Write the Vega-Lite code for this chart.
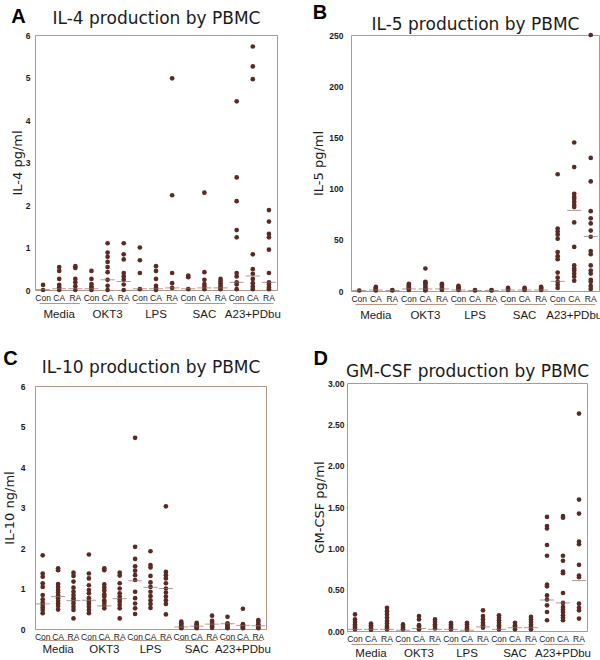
{
  "$schema": "https://vega.github.io/schema/vega-lite/v6.json",
  "padding": {"left": 2, "top": 2, "right": 0, "bottom": 0},
  "background": "white",
  "config": {
    "font": "Liberation Sans",
    "view": {"stroke": "#b59686", "strokeWidth": 1},
    "axis": {"grid": false, "ticks": false, "domain": false, "labelColor": "#1a1a1a", "titleColor": "#1a1a1a", "titleFont": "DejaVu Sans", "titleFontWeight": "normal"},
    "title": {"font": "Liberation Sans", "fontSize": 20, "fontWeight": "bold", "color": "#000", "anchor": "start", "frame": "bounds", "baseline": "alphabetic"}
  },
  "datasets": {
    "stims": [{"s": "Media"}, {"s": "OKT3"}, {"s": "LPS"}, {"s": "SAC"}, {"s": "A23+PDbu"}],
    "A": [
      {"c": "Media|Con", "v": 0.12}, {"c": "Media|Con", "v": 0},
      {"c": "Media|CA", "v": 0.54}, {"c": "Media|CA", "v": 0.45}, {"c": "Media|CA", "v": 0.26}, {"c": "Media|CA", "v": 0.12}, {"c": "Media|CA", "v": 0.06}, {"c": "Media|CA", "v": 0},
      {"c": "Media|RA", "v": 0.56}, {"c": "Media|RA", "v": 0.52}, {"c": "Media|RA", "v": 0.26}, {"c": "Media|RA", "v": 0.18}, {"c": "Media|RA", "v": 0.09}, {"c": "Media|RA", "v": 0},
      {"c": "OKT3|Con", "v": 0.45}, {"c": "OKT3|Con", "v": 0.26}, {"c": "OKT3|Con", "v": 0.14}, {"c": "OKT3|Con", "v": 0.08}, {"c": "OKT3|Con", "v": 0.05}, {"c": "OKT3|Con", "v": 0},
      {"c": "OKT3|CA", "v": 1.1}, {"c": "OKT3|CA", "v": 0.88}, {"c": "OKT3|CA", "v": 0.78}, {"c": "OKT3|CA", "v": 0.66}, {"c": "OKT3|CA", "v": 0.54}, {"c": "OKT3|CA", "v": 0.42}, {"c": "OKT3|CA", "v": 0.24}, {"c": "OKT3|CA", "v": 0.1}, {"c": "OKT3|CA", "v": 0},
      {"c": "OKT3|RA", "v": 1.1}, {"c": "OKT3|RA", "v": 0.84}, {"c": "OKT3|RA", "v": 0.72}, {"c": "OKT3|RA", "v": 0.4}, {"c": "OKT3|RA", "v": 0.32}, {"c": "OKT3|RA", "v": 0.24}, {"c": "OKT3|RA", "v": 0.13}, {"c": "OKT3|RA", "v": 0},
      {"c": "LPS|Con", "v": 1.0}, {"c": "LPS|Con", "v": 0.7}, {"c": "LPS|Con", "v": 0.4}, {"c": "LPS|Con", "v": 0.02},
      {"c": "LPS|CA", "v": 0.56}, {"c": "LPS|CA", "v": 0.45}, {"c": "LPS|CA", "v": 0.26}, {"c": "LPS|CA", "v": 0.1}, {"c": "LPS|CA", "v": 0.05}, {"c": "LPS|CA", "v": 0},
      {"c": "LPS|RA", "v": 4.98}, {"c": "LPS|RA", "v": 2.23}, {"c": "LPS|RA", "v": 0.4}, {"c": "LPS|RA", "v": 0.16}, {"c": "LPS|RA", "v": 0.05},
      {"c": "SAC|Con", "v": 0.34}, {"c": "SAC|Con", "v": 0.3}, {"c": "SAC|Con", "v": 0.02},
      {"c": "SAC|CA", "v": 2.29}, {"c": "SAC|CA", "v": 0.42}, {"c": "SAC|CA", "v": 0.24}, {"c": "SAC|CA", "v": 0.14}, {"c": "SAC|CA", "v": 0.08}, {"c": "SAC|CA", "v": 0.02},
      {"c": "SAC|RA", "v": 0.26}, {"c": "SAC|RA", "v": 0.21}, {"c": "SAC|RA", "v": 0.16}, {"c": "SAC|RA", "v": 0.1}, {"c": "SAC|RA", "v": 0.06}, {"c": "SAC|RA", "v": 0.02},
      {"c": "A23+PDbu|Con", "v": 4.44}, {"c": "A23+PDbu|Con", "v": 2.65}, {"c": "A23+PDbu|Con", "v": 2.09}, {"c": "A23+PDbu|Con", "v": 1.41}, {"c": "A23+PDbu|Con", "v": 1.24}, {"c": "A23+PDbu|Con", "v": 0.4}, {"c": "A23+PDbu|Con", "v": 0.32}, {"c": "A23+PDbu|Con", "v": 0.18}, {"c": "A23+PDbu|Con", "v": 0.13}, {"c": "A23+PDbu|Con", "v": 0.02},
      {"c": "A23+PDbu|CA", "v": 5.73}, {"c": "A23+PDbu|CA", "v": 5.26}, {"c": "A23+PDbu|CA", "v": 4.96}, {"c": "A23+PDbu|CA", "v": 0.84}, {"c": "A23+PDbu|CA", "v": 0.49}, {"c": "A23+PDbu|CA", "v": 0.38}, {"c": "A23+PDbu|CA", "v": 0.26}, {"c": "A23+PDbu|CA", "v": 0.16}, {"c": "A23+PDbu|CA", "v": 0.08}, {"c": "A23+PDbu|CA", "v": 0.02},
      {"c": "A23+PDbu|RA", "v": 1.88}, {"c": "A23+PDbu|RA", "v": 1.61}, {"c": "A23+PDbu|RA", "v": 1.32}, {"c": "A23+PDbu|RA", "v": 1.24}, {"c": "A23+PDbu|RA", "v": 0.95}, {"c": "A23+PDbu|RA", "v": 0.4}, {"c": "A23+PDbu|RA", "v": 0.18}, {"c": "A23+PDbu|RA", "v": 0.13}, {"c": "A23+PDbu|RA", "v": 0.06}, {"c": "A23+PDbu|RA", "v": 0.02}
    ],
    "Am": [
      {"c": "Media|Con", "v": 0.01}, {"c": "Media|CA", "v": 0.03}, {"c": "Media|RA", "v": 0.03},
      {"c": "OKT3|Con", "v": 0.03}, {"c": "OKT3|CA", "v": 0.24}, {"c": "OKT3|RA", "v": 0.2},
      {"c": "LPS|Con", "v": 0.03}, {"c": "LPS|CA", "v": 0.03}, {"c": "LPS|RA", "v": 0.05},
      {"c": "SAC|Con", "v": 0.03}, {"c": "SAC|CA", "v": 0.05}, {"c": "SAC|RA", "v": 0.05},
      {"c": "A23+PDbu|Con", "v": 0.18}, {"c": "A23+PDbu|CA", "v": 0.33}, {"c": "A23+PDbu|RA", "v": 0.18}
    ],
    "B": [
      {"c": "Media|Con", "v": 0.5},
      {"c": "Media|CA", "v": 4}, {"c": "Media|CA", "v": 3}, {"c": "Media|CA", "v": 2}, {"c": "Media|CA", "v": 1}, {"c": "Media|CA", "v": 0.5},
      {"c": "Media|RA", "v": 1}, {"c": "Media|RA", "v": 0.5},
      {"c": "OKT3|Con", "v": 7}, {"c": "OKT3|Con", "v": 6}, {"c": "OKT3|Con", "v": 5}, {"c": "OKT3|Con", "v": 4}, {"c": "OKT3|Con", "v": 3}, {"c": "OKT3|Con", "v": 2}, {"c": "OKT3|Con", "v": 1},
      {"c": "OKT3|CA", "v": 22}, {"c": "OKT3|CA", "v": 9}, {"c": "OKT3|CA", "v": 8}, {"c": "OKT3|CA", "v": 7}, {"c": "OKT3|CA", "v": 5}, {"c": "OKT3|CA", "v": 3}, {"c": "OKT3|CA", "v": 2}, {"c": "OKT3|CA", "v": 1}, {"c": "OKT3|CA", "v": 0.5},
      {"c": "OKT3|RA", "v": 7}, {"c": "OKT3|RA", "v": 6}, {"c": "OKT3|RA", "v": 5}, {"c": "OKT3|RA", "v": 3}, {"c": "OKT3|RA", "v": 2}, {"c": "OKT3|RA", "v": 1},
      {"c": "LPS|Con", "v": 5}, {"c": "LPS|Con", "v": 4}, {"c": "LPS|Con", "v": 3}, {"c": "LPS|Con", "v": 2}, {"c": "LPS|Con", "v": 1},
      {"c": "LPS|CA", "v": 1}, {"c": "LPS|CA", "v": 0.5},
      {"c": "LPS|RA", "v": 1}, {"c": "LPS|RA", "v": 0.5},
      {"c": "SAC|Con", "v": 3}, {"c": "SAC|Con", "v": 2}, {"c": "SAC|Con", "v": 1},
      {"c": "SAC|CA", "v": 3}, {"c": "SAC|CA", "v": 2}, {"c": "SAC|CA", "v": 1},
      {"c": "SAC|RA", "v": 4}, {"c": "SAC|RA", "v": 3}, {"c": "SAC|RA", "v": 2}, {"c": "SAC|RA", "v": 1},
      {"c": "A23+PDbu|Con", "v": 114}, {"c": "A23+PDbu|Con", "v": 61}, {"c": "A23+PDbu|Con", "v": 58}, {"c": "A23+PDbu|Con", "v": 55}, {"c": "A23+PDbu|Con", "v": 51}, {"c": "A23+PDbu|Con", "v": 38}, {"c": "A23+PDbu|Con", "v": 34}, {"c": "A23+PDbu|Con", "v": 31}, {"c": "A23+PDbu|Con", "v": 18}, {"c": "A23+PDbu|Con", "v": 13}, {"c": "A23+PDbu|Con", "v": 9}, {"c": "A23+PDbu|Con", "v": 6}, {"c": "A23+PDbu|Con", "v": 3},
      {"c": "A23+PDbu|CA", "v": 145}, {"c": "A23+PDbu|CA", "v": 121}, {"c": "A23+PDbu|CA", "v": 95}, {"c": "A23+PDbu|CA", "v": 92}, {"c": "A23+PDbu|CA", "v": 90}, {"c": "A23+PDbu|CA", "v": 87}, {"c": "A23+PDbu|CA", "v": 84}, {"c": "A23+PDbu|CA", "v": 82}, {"c": "A23+PDbu|CA", "v": 67}, {"c": "A23+PDbu|CA", "v": 43}, {"c": "A23+PDbu|CA", "v": 25}, {"c": "A23+PDbu|CA", "v": 22}, {"c": "A23+PDbu|CA", "v": 20}, {"c": "A23+PDbu|CA", "v": 17}, {"c": "A23+PDbu|CA", "v": 14}, {"c": "A23+PDbu|CA", "v": 10},
      {"c": "A23+PDbu|RA", "v": 250}, {"c": "A23+PDbu|RA", "v": 130}, {"c": "A23+PDbu|RA", "v": 107}, {"c": "A23+PDbu|RA", "v": 78}, {"c": "A23+PDbu|RA", "v": 71}, {"c": "A23+PDbu|RA", "v": 66}, {"c": "A23+PDbu|RA", "v": 59}, {"c": "A23+PDbu|RA", "v": 53}, {"c": "A23+PDbu|RA", "v": 39}, {"c": "A23+PDbu|RA", "v": 36}, {"c": "A23+PDbu|RA", "v": 25}, {"c": "A23+PDbu|RA", "v": 20}, {"c": "A23+PDbu|RA", "v": 17}, {"c": "A23+PDbu|RA", "v": 11}, {"c": "A23+PDbu|RA", "v": 9}, {"c": "A23+PDbu|RA", "v": 5}, {"c": "A23+PDbu|RA", "v": 2}
    ],
    "Bm": [
      {"c": "Media|Con", "v": 0.5}, {"c": "Media|CA", "v": 1}, {"c": "Media|RA", "v": 0.5},
      {"c": "OKT3|Con", "v": 2}, {"c": "OKT3|CA", "v": 2}, {"c": "OKT3|RA", "v": 2},
      {"c": "LPS|Con", "v": 1}, {"c": "LPS|CA", "v": 0.5}, {"c": "LPS|RA", "v": 0.5},
      {"c": "SAC|Con", "v": 1}, {"c": "SAC|CA", "v": 1}, {"c": "SAC|RA", "v": 1},
      {"c": "A23+PDbu|Con", "v": 9.4}, {"c": "A23+PDbu|CA", "v": 78.7}, {"c": "A23+PDbu|RA", "v": 53.3}
    ],
    "C": [
      {"c": "Media|Con", "v": 1.82}, {"c": "Media|Con", "v": 1.37}, {"c": "Media|Con", "v": 1.29}, {"c": "Media|Con", "v": 1.13}, {"c": "Media|Con", "v": 1.04}, {"c": "Media|Con", "v": 0.84}, {"c": "Media|Con", "v": 0.73}, {"c": "Media|Con", "v": 0.65}, {"c": "Media|Con", "v": 0.59}, {"c": "Media|Con", "v": 0.53}, {"c": "Media|Con", "v": 0.47}, {"c": "Media|Con", "v": 0.39},
      {"c": "Media|CA", "v": 1.5}, {"c": "Media|CA", "v": 1.45}, {"c": "Media|CA", "v": 1.11}, {"c": "Media|CA", "v": 1.04}, {"c": "Media|CA", "v": 0.96}, {"c": "Media|CA", "v": 0.9}, {"c": "Media|CA", "v": 0.83}, {"c": "Media|CA", "v": 0.76}, {"c": "Media|CA", "v": 0.69}, {"c": "Media|CA", "v": 0.63}, {"c": "Media|CA", "v": 0.57}, {"c": "Media|CA", "v": 0.48},
      {"c": "Media|RA", "v": 1.39}, {"c": "Media|RA", "v": 1.31}, {"c": "Media|RA", "v": 1.17}, {"c": "Media|RA", "v": 1.02}, {"c": "Media|RA", "v": 0.92}, {"c": "Media|RA", "v": 0.84}, {"c": "Media|RA", "v": 0.76}, {"c": "Media|RA", "v": 0.7}, {"c": "Media|RA", "v": 0.63}, {"c": "Media|RA", "v": 0.55}, {"c": "Media|RA", "v": 0.47}, {"c": "Media|RA", "v": 0.26},
      {"c": "OKT3|Con", "v": 1.84}, {"c": "OKT3|Con", "v": 1.37}, {"c": "OKT3|Con", "v": 1.25}, {"c": "OKT3|Con", "v": 1.08}, {"c": "OKT3|Con", "v": 0.96}, {"c": "OKT3|Con", "v": 0.88}, {"c": "OKT3|Con", "v": 0.76}, {"c": "OKT3|Con", "v": 0.67}, {"c": "OKT3|Con", "v": 0.62}, {"c": "OKT3|Con", "v": 0.55}, {"c": "OKT3|Con", "v": 0.47}, {"c": "OKT3|Con", "v": 0.39},
      {"c": "OKT3|CA", "v": 1.5}, {"c": "OKT3|CA", "v": 1.45}, {"c": "OKT3|CA", "v": 1.1}, {"c": "OKT3|CA", "v": 1.02}, {"c": "OKT3|CA", "v": 0.95}, {"c": "OKT3|CA", "v": 0.86}, {"c": "OKT3|CA", "v": 0.8}, {"c": "OKT3|CA", "v": 0.71}, {"c": "OKT3|CA", "v": 0.65}, {"c": "OKT3|CA", "v": 0.58}, {"c": "OKT3|CA", "v": 0.51},
      {"c": "OKT3|RA", "v": 1.39}, {"c": "OKT3|RA", "v": 1.32}, {"c": "OKT3|RA", "v": 1.13}, {"c": "OKT3|RA", "v": 1.0}, {"c": "OKT3|RA", "v": 0.88}, {"c": "OKT3|RA", "v": 0.8}, {"c": "OKT3|RA", "v": 0.73}, {"c": "OKT3|RA", "v": 0.67}, {"c": "OKT3|RA", "v": 0.59}, {"c": "OKT3|RA", "v": 0.51}, {"c": "OKT3|RA", "v": 0.26},
      {"c": "LPS|Con", "v": 4.72}, {"c": "LPS|Con", "v": 2.03}, {"c": "LPS|Con", "v": 1.73}, {"c": "LPS|Con", "v": 1.55}, {"c": "LPS|Con", "v": 1.44}, {"c": "LPS|Con", "v": 1.33}, {"c": "LPS|Con", "v": 1.21}, {"c": "LPS|Con", "v": 0.92}, {"c": "LPS|Con", "v": 0.76}, {"c": "LPS|Con", "v": 0.63}, {"c": "LPS|Con", "v": 0.51}, {"c": "LPS|Con", "v": 0.37},
      {"c": "LPS|CA", "v": 1.92}, {"c": "LPS|CA", "v": 1.58}, {"c": "LPS|CA", "v": 1.52}, {"c": "LPS|CA", "v": 1.31}, {"c": "LPS|CA", "v": 1.15}, {"c": "LPS|CA", "v": 1.04}, {"c": "LPS|CA", "v": 0.92}, {"c": "LPS|CA", "v": 0.81}, {"c": "LPS|CA", "v": 0.71}, {"c": "LPS|CA", "v": 0.62}, {"c": "LPS|CA", "v": 0.52},
      {"c": "LPS|RA", "v": 3.03}, {"c": "LPS|RA", "v": 1.41}, {"c": "LPS|RA", "v": 1.33}, {"c": "LPS|RA", "v": 1.25}, {"c": "LPS|RA", "v": 1.13}, {"c": "LPS|RA", "v": 1.0}, {"c": "LPS|RA", "v": 0.9}, {"c": "LPS|RA", "v": 0.8}, {"c": "LPS|RA", "v": 0.71}, {"c": "LPS|RA", "v": 0.62}, {"c": "LPS|RA", "v": 0.36},
      {"c": "SAC|Con", "v": 0.18}, {"c": "SAC|Con", "v": 0.14}, {"c": "SAC|Con", "v": 0.1}, {"c": "SAC|Con", "v": 0.07}, {"c": "SAC|Con", "v": 0.04}, {"c": "SAC|Con", "v": 0.02},
      {"c": "SAC|CA", "v": 0.15}, {"c": "SAC|CA", "v": 0.12}, {"c": "SAC|CA", "v": 0.1}, {"c": "SAC|CA", "v": 0.07}, {"c": "SAC|CA", "v": 0.04}, {"c": "SAC|CA", "v": 0.02},
      {"c": "SAC|RA", "v": 0.33}, {"c": "SAC|RA", "v": 0.2}, {"c": "SAC|RA", "v": 0.15}, {"c": "SAC|RA", "v": 0.1}, {"c": "SAC|RA", "v": 0.06}, {"c": "SAC|RA", "v": 0.03},
      {"c": "A23+PDbu|Con", "v": 0.3}, {"c": "A23+PDbu|Con", "v": 0.14}, {"c": "A23+PDbu|Con", "v": 0.12}, {"c": "A23+PDbu|Con", "v": 0.08}, {"c": "A23+PDbu|Con", "v": 0.04}, {"c": "A23+PDbu|Con", "v": 0.02},
      {"c": "A23+PDbu|CA", "v": 0.5}, {"c": "A23+PDbu|CA", "v": 0.12}, {"c": "A23+PDbu|CA", "v": 0.1}, {"c": "A23+PDbu|CA", "v": 0.07}, {"c": "A23+PDbu|CA", "v": 0.04}, {"c": "A23+PDbu|CA", "v": 0.02},
      {"c": "A23+PDbu|RA", "v": 0.22}, {"c": "A23+PDbu|RA", "v": 0.18}, {"c": "A23+PDbu|RA", "v": 0.12}, {"c": "A23+PDbu|RA", "v": 0.08}, {"c": "A23+PDbu|RA", "v": 0.04}, {"c": "A23+PDbu|RA", "v": 0.02}
    ],
    "Cm": [
      {"c": "Media|Con", "v": 0.62}, {"c": "Media|CA", "v": 0.8}, {"c": "Media|RA", "v": 0.7},
      {"c": "OKT3|Con", "v": 0.71}, {"c": "OKT3|CA", "v": 0.57}, {"c": "OKT3|RA", "v": 0.75},
      {"c": "LPS|Con", "v": 1.19}, {"c": "LPS|CA", "v": 1.03}, {"c": "LPS|RA", "v": 1.0},
      {"c": "SAC|Con", "v": 0.05}, {"c": "SAC|CA", "v": 0.07}, {"c": "SAC|RA", "v": 0.12},
      {"c": "A23+PDbu|Con", "v": 0.13}, {"c": "A23+PDbu|CA", "v": 0.09}, {"c": "A23+PDbu|RA", "v": 0.08}
    ],
    "D": [
      {"c": "Media|Con", "v": 0.2}, {"c": "Media|Con", "v": 0.14}, {"c": "Media|Con", "v": 0.11}, {"c": "Media|Con", "v": 0.08}, {"c": "Media|Con", "v": 0.06}, {"c": "Media|Con", "v": 0.04}, {"c": "Media|Con", "v": 0.02},
      {"c": "Media|CA", "v": 0.09}, {"c": "Media|CA", "v": 0.07}, {"c": "Media|CA", "v": 0.05}, {"c": "Media|CA", "v": 0.03}, {"c": "Media|CA", "v": 0.015},
      {"c": "Media|RA", "v": 0.28}, {"c": "Media|RA", "v": 0.24}, {"c": "Media|RA", "v": 0.2}, {"c": "Media|RA", "v": 0.16}, {"c": "Media|RA", "v": 0.12}, {"c": "Media|RA", "v": 0.09}, {"c": "Media|RA", "v": 0.06}, {"c": "Media|RA", "v": 0.04}, {"c": "Media|RA", "v": 0.02},
      {"c": "OKT3|Con", "v": 0.08}, {"c": "OKT3|Con", "v": 0.06}, {"c": "OKT3|Con", "v": 0.04}, {"c": "OKT3|Con", "v": 0.02},
      {"c": "OKT3|CA", "v": 0.18}, {"c": "OKT3|CA", "v": 0.14}, {"c": "OKT3|CA", "v": 0.07}, {"c": "OKT3|CA", "v": 0.05}, {"c": "OKT3|CA", "v": 0.02},
      {"c": "OKT3|RA", "v": 0.14}, {"c": "OKT3|RA", "v": 0.11}, {"c": "OKT3|RA", "v": 0.08}, {"c": "OKT3|RA", "v": 0.06}, {"c": "OKT3|RA", "v": 0.03},
      {"c": "LPS|Con", "v": 0.1}, {"c": "LPS|Con", "v": 0.08}, {"c": "LPS|Con", "v": 0.06}, {"c": "LPS|Con", "v": 0.04}, {"c": "LPS|Con", "v": 0.02},
      {"c": "LPS|CA", "v": 0.1}, {"c": "LPS|CA", "v": 0.08}, {"c": "LPS|CA", "v": 0.05}, {"c": "LPS|CA", "v": 0.03}, {"c": "LPS|CA", "v": 0.015},
      {"c": "LPS|RA", "v": 0.25}, {"c": "LPS|RA", "v": 0.18}, {"c": "LPS|RA", "v": 0.14}, {"c": "LPS|RA", "v": 0.1}, {"c": "LPS|RA", "v": 0.07}, {"c": "LPS|RA", "v": 0.04},
      {"c": "SAC|Con", "v": 0.19}, {"c": "SAC|Con", "v": 0.16}, {"c": "SAC|Con", "v": 0.13}, {"c": "SAC|Con", "v": 0.1}, {"c": "SAC|Con", "v": 0.07}, {"c": "SAC|Con", "v": 0.05}, {"c": "SAC|Con", "v": 0.02},
      {"c": "SAC|CA", "v": 0.1}, {"c": "SAC|CA", "v": 0.07}, {"c": "SAC|CA", "v": 0.05}, {"c": "SAC|CA", "v": 0.02},
      {"c": "SAC|RA", "v": 0.17}, {"c": "SAC|RA", "v": 0.14}, {"c": "SAC|RA", "v": 0.11}, {"c": "SAC|RA", "v": 0.08}, {"c": "SAC|RA", "v": 0.05}, {"c": "SAC|RA", "v": 0.02},
      {"c": "A23+PDbu|Con", "v": 1.38}, {"c": "A23+PDbu|Con", "v": 1.27}, {"c": "A23+PDbu|Con", "v": 1.24}, {"c": "A23+PDbu|Con", "v": 1.04}, {"c": "A23+PDbu|Con", "v": 0.91}, {"c": "A23+PDbu|Con", "v": 0.56}, {"c": "A23+PDbu|Con", "v": 0.54}, {"c": "A23+PDbu|Con", "v": 0.43}, {"c": "A23+PDbu|Con", "v": 0.38}, {"c": "A23+PDbu|Con", "v": 0.31}, {"c": "A23+PDbu|Con", "v": 0.23}, {"c": "A23+PDbu|Con", "v": 0.13},
      {"c": "A23+PDbu|CA", "v": 1.39}, {"c": "A23+PDbu|CA", "v": 1.37}, {"c": "A23+PDbu|CA", "v": 0.91}, {"c": "A23+PDbu|CA", "v": 0.85}, {"c": "A23+PDbu|CA", "v": 0.72}, {"c": "A23+PDbu|CA", "v": 0.7}, {"c": "A23+PDbu|CA", "v": 0.46}, {"c": "A23+PDbu|CA", "v": 0.34}, {"c": "A23+PDbu|CA", "v": 0.29}, {"c": "A23+PDbu|CA", "v": 0.26}, {"c": "A23+PDbu|CA", "v": 0.23}, {"c": "A23+PDbu|CA", "v": 0.19}, {"c": "A23+PDbu|CA", "v": 0.16}, {"c": "A23+PDbu|CA", "v": 0.13},
      {"c": "A23+PDbu|RA", "v": 2.63}, {"c": "A23+PDbu|RA", "v": 1.59}, {"c": "A23+PDbu|RA", "v": 1.42}, {"c": "A23+PDbu|RA", "v": 1.08}, {"c": "A23+PDbu|RA", "v": 1.05}, {"c": "A23+PDbu|RA", "v": 0.8}, {"c": "A23+PDbu|RA", "v": 0.67}, {"c": "A23+PDbu|RA", "v": 0.65}, {"c": "A23+PDbu|RA", "v": 0.33}, {"c": "A23+PDbu|RA", "v": 0.28}, {"c": "A23+PDbu|RA", "v": 0.25}, {"c": "A23+PDbu|RA", "v": 0.15}
    ],
    "Dm": [
      {"c": "Media|Con", "v": 0.02}, {"c": "Media|CA", "v": 0.02}, {"c": "Media|RA", "v": 0.02},
      {"c": "OKT3|Con", "v": 0.01}, {"c": "OKT3|CA", "v": 0.03}, {"c": "OKT3|RA", "v": 0.02},
      {"c": "LPS|Con", "v": 0.02}, {"c": "LPS|CA", "v": 0.01}, {"c": "LPS|RA", "v": 0.05},
      {"c": "SAC|Con", "v": 0.02}, {"c": "SAC|CA", "v": 0.04}, {"c": "SAC|RA", "v": 0.04},
      {"c": "A23+PDbu|Con", "v": 0.375}, {"c": "A23+PDbu|CA", "v": 0.34}, {"c": "A23+PDbu|RA", "v": 0.61}
    ]
  },
  "columns": 2,
  "align": "none",
  "spacing": {"row": 27, "column": 31},
  "concat": [
    {
      "width": 242, "height": 255,
      "title": {"text": "A", "offset": -18},
      "layer": [
        {"data": {"name": "A"}, "mark": {"type": "point", "filled": true, "size": 22, "color": "#5c2a24", "opacity": 1},
         "encoding": {
           "x": {"field": "c", "type": "nominal", "scale": {"type": "band", "paddingInner": 0, "paddingOuter": 0, "domain": ["Media|Con","Media|CA","Media|RA","OKT3|Con","OKT3|CA","OKT3|RA","LPS|Con","LPS|CA","LPS|RA","SAC|Con","SAC|CA","SAC|RA","A23+PDbu|Con","A23+PDbu|CA","A23+PDbu|RA"]},
                 "axis": {"orient": "bottom", "title": null, "labelExpr": "split(datum.label, '|')[1]", "labelAngle": 0, "labelFontSize": 8.5, "labelPadding": 3}},
           "y": {"field": "v", "type": "quantitative", "scale": {"domain": [0, 6], "nice": false},
                 "axis": {"title": "IL-4 pg/ml", "values": [0,1,2,3,4,5,6], "labelFontSize": 8.5, "labelFontWeight": "bold", "labelPadding": 5, "titleFontSize": 13, "titlePadding": 1}}
         }},
        {"data": {"name": "Am"}, "mark": {"type": "tick", "orient": "horizontal", "size": 14, "thickness": 1, "color": "#8c7268"},
         "encoding": {"x": {"field": "c", "type": "nominal", "axis": null, "scale": {"type": "band", "paddingInner": 0, "paddingOuter": 0, "domain": ["Media|Con","Media|CA","Media|RA","OKT3|Con","OKT3|CA","OKT3|RA","LPS|Con","LPS|CA","LPS|RA","SAC|Con","SAC|CA","SAC|RA","A23+PDbu|Con","A23+PDbu|CA","A23+PDbu|RA"]}}, "y": {"field": "v", "type": "quantitative"}}},
        {"data": {"name": "stims"}, "mark": {"type": "point", "opacity": 0},
         "encoding": {"y": {"datum": 0, "type": "quantitative"}, "x": {"field": "s", "type": "nominal", "scale": {"type": "band", "paddingInner": 0, "paddingOuter": 0, "domain": ["Media","OKT3","LPS","SAC","A23+PDbu"]},
           "axis": {"orient": "bottom", "offset": 13, "title": null, "domain": true, "domainColor": "#b59686", "domainDash": [40.5, 7.9], "domainDashOffset": 44.45, "labelAngle": 0, "labelFontSize": 11.5, "labelPadding": 5}}}},
        {"data": {"name": "stims"}, "mark": {"type": "point", "opacity": 0},
         "encoding": {"y": {"datum": 0, "type": "quantitative"}, "x": {"field": "s", "type": "nominal", "scale": {"type": "band", "paddingInner": 0, "paddingOuter": 0},
           "axis": {"orient": "top", "labels": false, "title": "IL-4 production by PBMC", "titleFontSize": 17, "titlePadding": 8}}}}
      ],
      "resolve": {"scale": {"x": "independent"}, "axis": {"x": "independent"}}
    },
    {
      "width": 248, "height": 256,
      "title": {"text": "B", "offset": -8},
      "layer": [
        {"data": {"name": "B"}, "mark": {"type": "point", "filled": true, "size": 22, "color": "#5c2a24", "opacity": 1},
         "encoding": {
           "x": {"field": "c", "type": "nominal", "scale": {"type": "band", "paddingInner": 0, "paddingOuter": 0, "domain": ["Media|Con","Media|CA","Media|RA","OKT3|Con","OKT3|CA","OKT3|RA","LPS|Con","LPS|CA","LPS|RA","SAC|Con","SAC|CA","SAC|RA","A23+PDbu|Con","A23+PDbu|CA","A23+PDbu|RA"]},
                 "axis": {"orient": "bottom", "title": null, "labelExpr": "split(datum.label, '|')[1]", "labelAngle": 0, "labelFontSize": 8.5, "labelPadding": 3}},
           "y": {"field": "v", "type": "quantitative", "scale": {"domain": [0, 250], "nice": false},
                 "axis": {"title": "IL-5 pg/ml", "values": [0,50,100,150,200,250], "labelFontSize": 8.5, "labelFontWeight": "bold", "labelPadding": 8, "titleFontSize": 13, "titlePadding": 3}}
         }},
        {"data": {"name": "Bm"}, "mark": {"type": "tick", "orient": "horizontal", "size": 14, "thickness": 1, "color": "#8c7268"},
         "encoding": {"x": {"field": "c", "type": "nominal", "axis": null, "scale": {"type": "band", "paddingInner": 0, "paddingOuter": 0, "domain": ["Media|Con","Media|CA","Media|RA","OKT3|Con","OKT3|CA","OKT3|RA","LPS|Con","LPS|CA","LPS|RA","SAC|Con","SAC|CA","SAC|RA","A23+PDbu|Con","A23+PDbu|CA","A23+PDbu|RA"]}}, "y": {"field": "v", "type": "quantitative"}}},
        {"data": {"name": "stims"}, "mark": {"type": "point", "opacity": 0},
         "encoding": {"y": {"datum": 0, "type": "quantitative"}, "x": {"field": "s", "type": "nominal", "scale": {"type": "band", "paddingInner": 0, "paddingOuter": 0, "domain": ["Media","OKT3","LPS","SAC","A23+PDbu"]},
           "axis": {"orient": "bottom", "offset": 13, "title": null, "domain": true, "domainColor": "#b59686", "domainDash": [41.5, 8.1], "domainDashOffset": 45.55, "labelAngle": 0, "labelFontSize": 11.5, "labelPadding": 5}}}},
        {"data": {"name": "stims"}, "mark": {"type": "point", "opacity": 0},
         "encoding": {"y": {"datum": 0, "type": "quantitative"}, "x": {"field": "s", "type": "nominal", "scale": {"type": "band", "paddingInner": 0, "paddingOuter": 0},
           "axis": {"orient": "top", "labels": false, "title": "IL-5 production by PBMC", "titleFontSize": 17, "titlePadding": 2}}}}
      ],
      "resolve": {"scale": {"x": "independent"}, "axis": {"x": "independent"}}
    },
    {
      "width": 231, "height": 243,
      "title": {"text": "C", "offset": -11},
      "layer": [
        {"data": {"name": "C"}, "mark": {"type": "point", "filled": true, "size": 22, "color": "#5c2a24", "opacity": 1},
         "encoding": {
           "x": {"field": "c", "type": "nominal", "scale": {"type": "band", "paddingInner": 0, "paddingOuter": 0, "domain": ["Media|Con","Media|CA","Media|RA","OKT3|Con","OKT3|CA","OKT3|RA","LPS|Con","LPS|CA","LPS|RA","SAC|Con","SAC|CA","SAC|RA","A23+PDbu|Con","A23+PDbu|CA","A23+PDbu|RA"]},
                 "axis": {"orient": "bottom", "title": null, "labelExpr": "split(datum.label, '|')[1]", "labelAngle": 0, "labelFontSize": 8.5, "labelPadding": 3}},
           "y": {"field": "v", "type": "quantitative", "scale": {"domain": [0, 6], "nice": false},
                 "axis": {"title": "IL-10 ng/ml", "values": [0,1,2,3,4,5,6], "labelFontSize": 8.5, "labelFontWeight": "bold", "labelPadding": 10, "titleFontSize": 13, "titlePadding": 4}}
         }},
        {"data": {"name": "Cm"}, "mark": {"type": "tick", "orient": "horizontal", "size": 14, "thickness": 1, "color": "#8c7268"},
         "encoding": {"x": {"field": "c", "type": "nominal", "axis": null, "scale": {"type": "band", "paddingInner": 0, "paddingOuter": 0, "domain": ["Media|Con","Media|CA","Media|RA","OKT3|Con","OKT3|CA","OKT3|RA","LPS|Con","LPS|CA","LPS|RA","SAC|Con","SAC|CA","SAC|RA","A23+PDbu|Con","A23+PDbu|CA","A23+PDbu|RA"]}}, "y": {"field": "v", "type": "quantitative"}}},
        {"data": {"name": "stims"}, "mark": {"type": "point", "opacity": 0},
         "encoding": {"y": {"datum": 0, "type": "quantitative"}, "x": {"field": "s", "type": "nominal", "scale": {"type": "band", "paddingInner": 0, "paddingOuter": 0, "domain": ["Media","OKT3","LPS","SAC","A23+PDbu"]},
           "axis": {"orient": "bottom", "offset": 11, "title": null, "domain": true, "domainColor": "#b59686", "domainDash": [38.5, 7.7], "domainDashOffset": 42.35, "labelAngle": 0, "labelFontSize": 11.5, "labelPadding": 3}}}},
        {"data": {"name": "stims"}, "mark": {"type": "point", "opacity": 0},
         "encoding": {"y": {"datum": 0, "type": "quantitative"}, "x": {"field": "s", "type": "nominal", "scale": {"type": "band", "paddingInner": 0, "paddingOuter": 0},
           "axis": {"orient": "top", "labels": false, "title": "IL-10 production by PBMC", "titleFontSize": 17, "titlePadding": 10}}}}
      ],
      "resolve": {"scale": {"x": "independent"}, "axis": {"x": "independent"}}
    },
    {
      "width": 240, "height": 248,
      "title": {"text": "D", "offset": -7},
      "layer": [
        {"data": {"name": "D"}, "mark": {"type": "point", "filled": true, "size": 22, "color": "#5c2a24", "opacity": 1},
         "encoding": {
           "x": {"field": "c", "type": "nominal", "scale": {"type": "band", "paddingInner": 0, "paddingOuter": 0, "domain": ["Media|Con","Media|CA","Media|RA","OKT3|Con","OKT3|CA","OKT3|RA","LPS|Con","LPS|CA","LPS|RA","SAC|Con","SAC|CA","SAC|RA","A23+PDbu|Con","A23+PDbu|CA","A23+PDbu|RA"]},
                 "axis": {"orient": "bottom", "title": null, "labelExpr": "split(datum.label, '|')[1]", "labelAngle": 0, "labelFontSize": 8.5, "labelPadding": 3}},
           "y": {"field": "v", "type": "quantitative", "scale": {"domain": [0, 3], "nice": false},
                 "axis": {"title": "GM-CSF pg/ml", "values": [0,0.5,1,1.5,2,2.5,3], "format": ".2f", "labelFontSize": 8.5, "labelFontWeight": "bold", "labelPadding": 3, "titleFontSize": 13, "titlePadding": 1}}
         }},
        {"data": {"name": "Dm"}, "mark": {"type": "tick", "orient": "horizontal", "size": 14, "thickness": 1, "color": "#8c7268"},
         "encoding": {"x": {"field": "c", "type": "nominal", "axis": null, "scale": {"type": "band", "paddingInner": 0, "paddingOuter": 0, "domain": ["Media|Con","Media|CA","Media|RA","OKT3|Con","OKT3|CA","OKT3|RA","LPS|Con","LPS|CA","LPS|RA","SAC|Con","SAC|CA","SAC|RA","A23+PDbu|Con","A23+PDbu|CA","A23+PDbu|RA"]}}, "y": {"field": "v", "type": "quantitative"}}},
        {"data": {"name": "stims"}, "mark": {"type": "point", "opacity": 0},
         "encoding": {"y": {"datum": 0, "type": "quantitative"}, "x": {"field": "s", "type": "nominal", "scale": {"type": "band", "paddingInner": 0, "paddingOuter": 0, "domain": ["Media","OKT3","LPS","SAC","A23+PDbu"]},
           "axis": {"orient": "bottom", "offset": 13, "title": null, "domain": true, "domainColor": "#b59686", "domainDash": [40, 8], "domainDashOffset": 44, "labelAngle": 0, "labelFontSize": 11.5, "labelPadding": 3}}}},
        {"data": {"name": "stims"}, "mark": {"type": "point", "opacity": 0},
         "encoding": {"y": {"datum": 0, "type": "quantitative"}, "x": {"field": "s", "type": "nominal", "scale": {"type": "band", "paddingInner": 0, "paddingOuter": 0},
           "axis": {"orient": "top", "labels": false, "title": "GM-CSF production by PBMC", "titleFontSize": 17, "titlePadding": 3}}}}
      ],
      "resolve": {"scale": {"x": "independent"}, "axis": {"x": "independent"}}
    }
  ]
}
